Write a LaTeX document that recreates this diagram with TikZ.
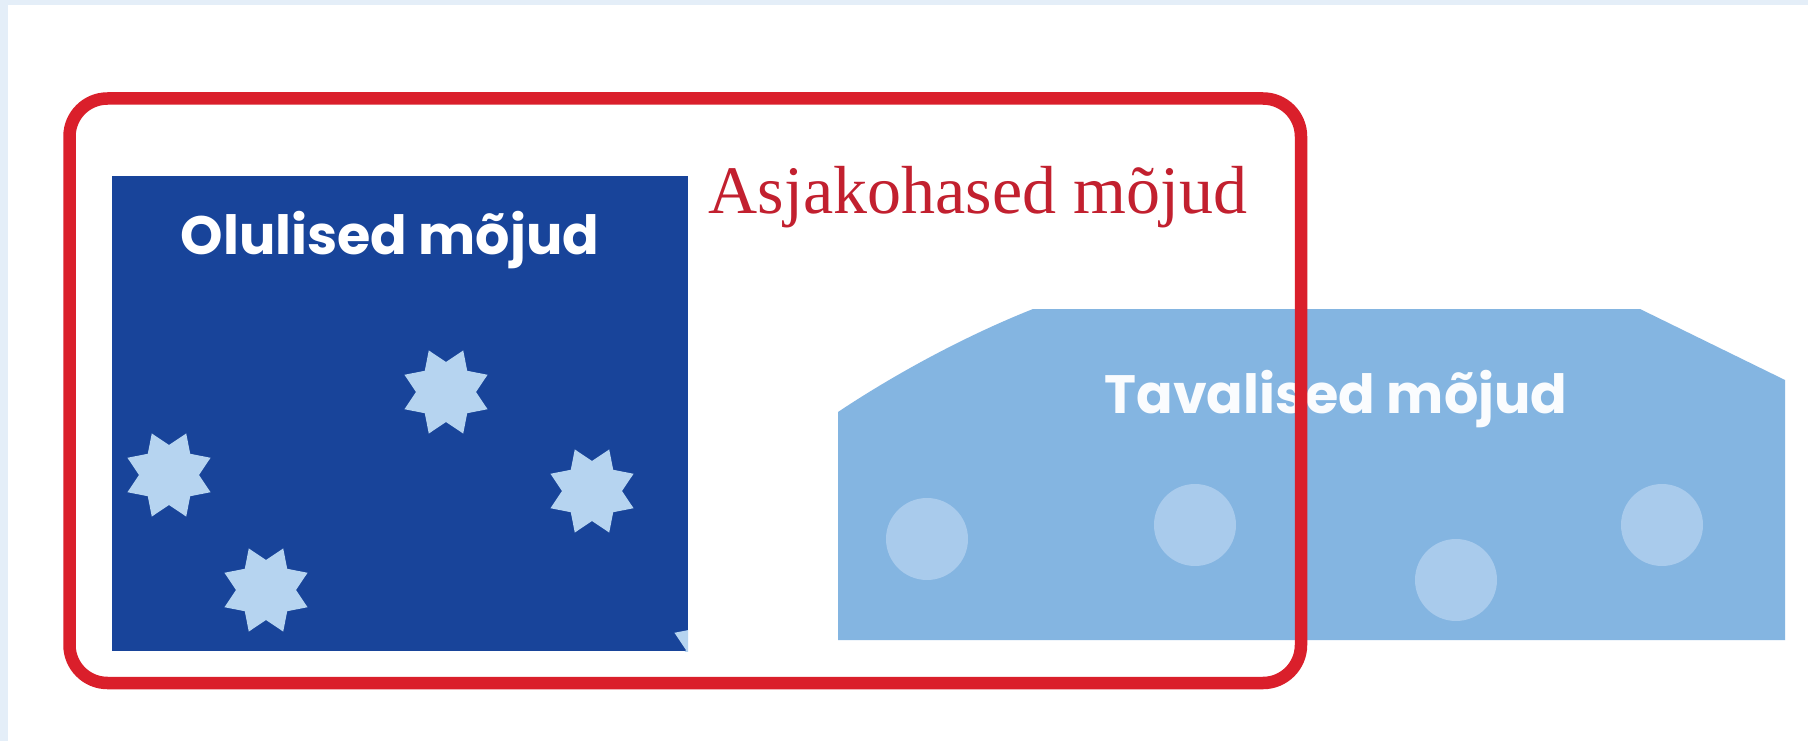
\documentclass[tikz,border=0pt]{standalone}
\usepackage{fontspec}
\setmainfont{Liberation Serif}
\newfontfamily\gothic{Poppins}
\usetikzlibrary{shapes.geometric}
\definecolor{bgblue}{HTML}{E4EEF8}
\definecolor{darkblue}{HTML}{18449A}
\definecolor{shapeblue}{HTML}{84B5E1}
\definecolor{dotblue}{HTML}{A9CBEC}
\definecolor{starblue}{HTML}{B6D4F0}
\definecolor{frame}{HTML}{DA1F2B}
\definecolor{titlered}{HTML}{C2202F}
\tikzset{
  starnode/.style={star, star points=8, star point ratio=1.5, minimum size=90pt, inner sep=0pt, fill=starblue, draw=none, shape border rotate=22.5},
  dotnode/.style={circle, minimum size=82pt, inner sep=0pt, fill=dotblue, draw=none},
  boldtitle/.style={font=\gothic\bfseries\fontsize{54}{58}\selectfont, text=white, anchor=base, inner sep=0pt},
  redtitle/.style={font=\fontsize{68}{72}\selectfont, text=titlered, anchor=base, inner sep=0pt},
  redframe/.style={draw=frame, line width=12.5pt, rounded corners=38pt}
}
\begin{document}
\begin{tikzpicture}[x=1pt, y=-1pt]
\useasboundingbox (0,0) rectangle (1808,741);
% page background
\fill[bgblue] (0,0) rectangle (1808,741);
\fill[white] (8,5) rectangle (1808,741);
% left box
\fill[darkblue] (112,176) rectangle (688,651);
\begin{scope}
  \clip (112,176) rectangle (688,651);
  \node[starnode] (s1) at (446,392) {};
  \node[starnode] (s2) at (169,475) {};
  \node[starnode] (s3) at (592,491) {};
  \node[starnode] (s4) at (266,590) {};
  \node[starnode] (s5) at (716,650) {};
\end{scope}
\node[boldtitle] (olulised) at (390,254) {Olulised mõjud};
% right shape
\fill[shapeblue] (838,640) -- (838,412) .. controls (895,374) and (965,336) .. (1033,309)
  -- (1640,309) -- (1785,380) -- (1785,640) -- cycle;
\node[dotnode] (d1) at (927,539) {};
\node[dotnode] (d2) at (1195,525) {};
\node[dotnode] (d3) at (1456,580) {};
\node[dotnode] (d4) at (1662,525) {};
\node[boldtitle, text=white!96!shapeblue] (tavalised) at (1336,413) {Tavalised mõjud};
% red frame
\draw[redframe] (69.5,98.5) rectangle (1301,683);
\node[redtitle] (asjakohased) at (978,213) {Asjakohased mõjud};
\end{tikzpicture}
\end{document}
